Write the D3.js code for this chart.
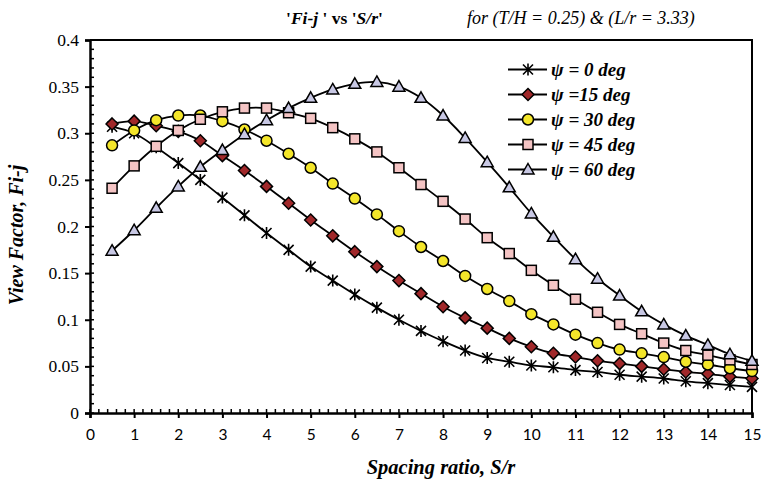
<!DOCTYPE html>
<html>
<head>
<meta charset="utf-8">
<script src="https://cdn.jsdelivr.net/npm/d3@7"></script>
<style>
  body { margin: 0; background: #fff; }
  svg { display: block; }
</style>
</head>
<body>
<div id="chart"></div>
<script>
// Spacing ratio values (x)
const spacing = [0.5,1,1.5,2,2.5,3,3.5,4,4.5,5,5.5,6,6.5,7,7.5,8,8.5,9,9.5,10,10.5,11,11.5,12,12.5,13,13.5,14,14.5,15];

// View factor for each tilt angle
const psi0  = [0.307,0.300,0.285,0.268,0.250,0.231,0.212,0.193,0.175,0.157,0.142,0.127,0.113,0.100,0.088,0.077,0.067,0.059,0.055,0.051,0.049,0.046,0.044,0.041,0.039,0.037,0.034,0.032,0.030,0.028];
const psi15 = [0.310,0.313,0.308,0.302,0.292,0.276,0.260,0.243,0.225,0.207,0.190,0.173,0.157,0.142,0.128,0.114,0.102,0.091,0.080,0.071,0.064,0.060,0.056,0.053,0.050,0.047,0.044,0.042,0.039,0.037];
const psi30 = [0.287,0.303,0.314,0.319,0.319,0.313,0.304,0.292,0.278,0.263,0.246,0.230,0.213,0.195,0.178,0.163,0.147,0.133,0.120,0.106,0.095,0.084,0.075,0.068,0.064,0.060,0.055,0.052,0.048,0.045];
const psi45 = [0.241,0.265,0.286,0.303,0.315,0.323,0.327,0.327,0.322,0.316,0.306,0.294,0.280,0.263,0.245,0.227,0.208,0.188,0.171,0.153,0.137,0.122,0.108,0.095,0.085,0.075,0.067,0.062,0.057,0.052];
const psi60 = [0.174,0.196,0.220,0.243,0.264,0.282,0.299,0.314,0.327,0.338,0.347,0.353,0.355,0.350,0.338,0.319,0.295,0.269,0.242,0.214,0.189,0.165,0.144,0.126,0.109,0.095,0.083,0.073,0.063,0.056];

const seriesNames = ["\u03C8 = 0 deg", "\u03C8 =15 deg", "\u03C8 = 30 deg", "\u03C8 = 45 deg", "\u03C8 = 60 deg"];
const seriesValues = [psi0, psi15, psi30, psi45, psi60];
const markerTypes = ["star", "diamond", "circle", "square", "triangle"];
const markerFills = ["#000000", "#a0282a", "#f4e62a", "#f4c4c4", "#c8c8e4"];

const xTicks = d3.range(0, 16, 1);
const yTicks = [0, 0.05, 0.1, 0.15, 0.2, 0.25, 0.3, 0.35, 0.4];

const width = 763, height = 487;
const plotLeft = 90, plotRight = 752, plotTop = 40, plotBottom = 413;

const svg = d3.select("#chart")
  .append("svg")
  .attr("width", width)
  .attr("height", height);

const x = d3.scaleLinear().domain([0, 15]).range([plotLeft, plotRight]);
const y = d3.scaleLinear().domain([0, 0.4]).range([plotBottom, plotTop]);

// frame (top and right)
svg.append("path")
  .attr("d", `M${plotLeft},${plotTop}H${plotRight}V${plotBottom}`)
  .attr("fill", "none")
  .attr("stroke", "#000")
  .attr("stroke-width", 2);

// minor ticks pointing inside
const xMinor = d3.range(0, 15.001, 0.2);
svg.append("g").selectAll("line")
  .data(xMinor)
  .enter().append("line")
  .attr("x1", d => x(d)).attr("x2", d => x(d))
  .attr("y1", plotBottom).attr("y2", plotBottom - 4)
  .attr("stroke", "#000").attr("stroke-width", 1.5);

const yMinor = d3.range(0, 0.4001, 0.01);
svg.append("g").selectAll("line")
  .data(yMinor)
  .enter().append("line")
  .attr("x1", plotLeft).attr("x2", plotLeft + 4)
  .attr("y1", d => y(d)).attr("y2", d => y(d))
  .attr("stroke", "#000").attr("stroke-width", 1.5);

// axes
const xAxis = svg.append("g")
  .attr("transform", `translate(0,${plotBottom})`)
  .call(d3.axisBottom(x).tickValues(xTicks).tickSize(5).tickPadding(11).tickFormat(d3.format("d")));
xAxis.select(".domain").attr("stroke-width", 2.5);
xAxis.selectAll(".tick line").attr("stroke-width", 2);
xAxis.selectAll("text")
  .style("font-family", "Lato, 'Liberation Sans', sans-serif")
  .style("font-size", "15.5px")
  .attr("fill", "#000");

const yAxis = svg.append("g")
  .attr("transform", `translate(${plotLeft},0)`)
  .call(d3.axisLeft(y).tickValues(yTicks).tickSize(5).tickPadding(6).tickFormat(d => String(+d.toFixed(2))));
yAxis.select(".domain").attr("stroke-width", 2.5);
yAxis.selectAll(".tick line").attr("stroke-width", 2);
yAxis.selectAll("text")
  .style("font-family", "'Liberation Serif', serif")
  .style("font-size", "17.5px")
  .attr("fill", "#000");

// axis titles
svg.append("text")
  .attr("x", 441)
  .attr("y", 474)
  .attr("text-anchor", "middle")
  .style("font-family", "'Liberation Serif', serif")
  .style("font-size", "20.5px")
  .style("font-weight", "bold")
  .style("font-style", "italic")
  .text("Spacing ratio, S/r");

svg.append("text")
  .attr("transform", `translate(23,235) rotate(-90)`)
  .attr("text-anchor", "middle")
  .style("font-family", "'Liberation Serif', serif")
  .style("font-size", "20px")
  .style("font-weight", "bold")
  .style("font-style", "italic")
  .text("View Factor, Fi-j");

// chart title
const title = svg.append("text")
  .attr("x", 286)
  .attr("y", 24)
  .style("font-family", "'Liberation Serif', serif")
  .style("font-size", "17.5px")
  .style("font-weight", "bold");
title.append("tspan").text("'");
title.append("tspan").style("font-style", "italic").text("Fi-j");
title.append("tspan").text(" ' vs '");
title.append("tspan").style("font-style", "italic").text("S/r");
title.append("tspan").text("'");

svg.append("text")
  .attr("x", 467)
  .attr("y", 24)
  .style("font-family", "'Liberation Serif', serif")
  .style("font-size", "18px")
  .style("font-style", "italic")
  .text("for (T/H = 0.25) & (L/r = 3.33)");

// marker drawing
function drawMarker(g, type, fill) {
  if (type === "star") {
    g.append("path")
      .attr("d", "M-5,-5L5,5M-5,5L5,-5M0,-6L0,6")
      .attr("stroke", "#000").attr("stroke-width", 1.6).attr("fill", "none");
  } else if (type === "diamond") {
    g.append("path").attr("d", "M0,-6L6,0L0,6L-6,0Z")
      .attr("fill", fill).attr("stroke", "#000").attr("stroke-width", 1.5);
  } else if (type === "circle") {
    g.append("circle").attr("r", 5.5)
      .attr("fill", fill).attr("stroke", "#000").attr("stroke-width", 1.5);
  } else if (type === "square") {
    g.append("rect").attr("x", -5).attr("y", -5).attr("width", 10).attr("height", 10)
      .attr("fill", fill).attr("stroke", "#000").attr("stroke-width", 1.5);
  } else if (type === "triangle") {
    g.append("path").attr("d", "M0,-6L6,4.5L-6,4.5Z")
      .attr("fill", fill).attr("stroke", "#000").attr("stroke-width", 1.5);
  }
}

const line = d3.line()
  .x((d, i) => x(spacing[i]))
  .y(d => y(d))
  .curve(d3.curveCatmullRom.alpha(0.5));

seriesValues.forEach((vals, k) => {
  svg.append("path")
    .datum(vals)
    .attr("d", line)
    .attr("fill", "none")
    .attr("stroke", "#000")
    .attr("stroke-width", 1.8);
});

seriesValues.forEach((vals, k) => {
  vals.forEach((v, i) => {
    const g = svg.append("g").attr("transform", `translate(${x(spacing[i])},${y(v)})`);
    drawMarker(g, markerTypes[k], markerFills[k]);
  });
});

// legend
const legend = svg.append("g");
seriesNames.forEach((name, k) => {
  const ly = 69.5 + k * 25;
  legend.append("line")
    .attr("x1", 508).attr("x2", 547)
    .attr("y1", ly).attr("y2", ly)
    .attr("stroke", "#000").attr("stroke-width", 1.8);
  const g = legend.append("g").attr("transform", `translate(528,${ly})`);
  drawMarker(g, markerTypes[k], markerFills[k]);
  legend.append("text")
    .attr("x", 551)
    .attr("y", ly + 6.5)
    .style("font-family", "'Liberation Serif', serif")
    .style("font-size", "19px")
    .style("font-weight", "bold")
    .style("font-style", "italic")
    .text(name);
});
</script>
</body>
</html>
